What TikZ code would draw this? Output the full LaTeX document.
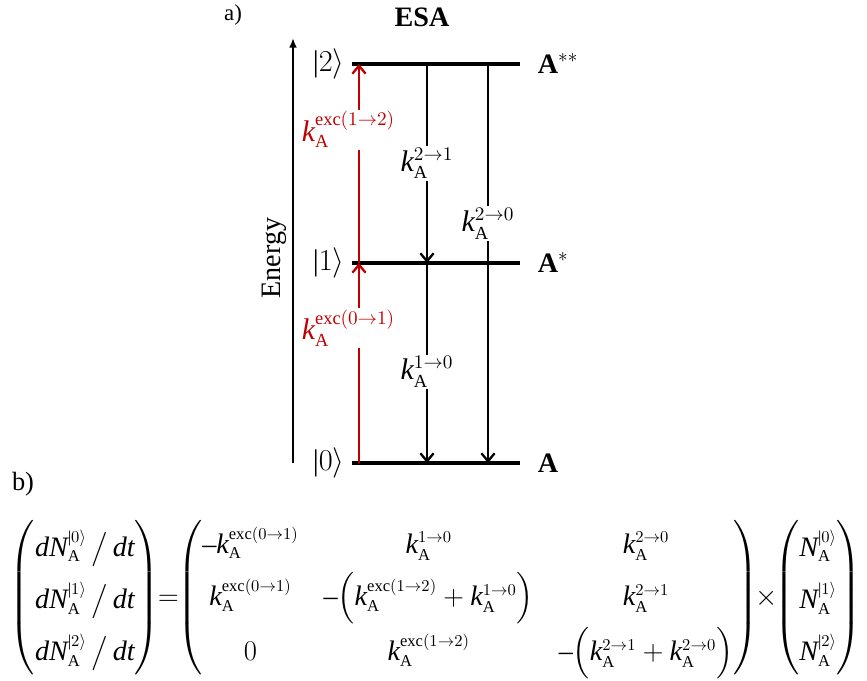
\documentclass[tikz,border=0pt]{standalone}
\usepackage{amsmath}
\usepackage{fontspec}
\setmainfont{Liberation Serif}
\usepackage[italic]{mathastext}
\usetikzlibrary{arrows.meta,positioning}
\DeclareMathSizes{16}{17}{10.5}{7.5}
\DeclareMathSizes{15}{17}{10}{7}
\definecolor{excred}{RGB}{192,0,0}
\newcommand{\krate}[1]{k_{\mathrm{A}}^{#1}}
\tikzset{
  level/.style={line width=2.3pt},
  decay/.style={line width=1.3pt,-{Straight Barb[length=4.5pt,width=7.5pt]}},
  excite/.style={decay,color=excred},
  ratelbl/.style={fill=white,inner sep=1pt},
}
\begin{document}
\begin{tikzpicture}[font=\fontsize{16}{19}\selectfont]
  \useasboundingbox (0,0) rectangle (17.340,13.620);
  \node[font=\fontsize{13}{15.6}\selectfont] (lbla) at (4.660,13.320) {a)};
  \node[font=\fontsize{16}{19}\selectfont\bfseries] (title) at (8.440,13.280) {ESA};
  \coordinate (ax0) at (5.860,4.360);
  \coordinate (ax1) at (5.860,12.860);
  \draw[line width=1.6pt,-{Latex[length=5.5pt,width=4.5pt]}] (ax0) -- (ax1);
  \node[rotate=90] (energy) at (5.480,8.460) {Energy};
  \coordinate (l0w) at (7.040,4.360);
  \coordinate (l0e) at (10.400,4.360);
  \coordinate (l1w) at (7.040,8.360);
  \coordinate (l1e) at (10.400,8.360);
  \coordinate (l2w) at (7.040,12.340);
  \coordinate (l2e) at (10.400,12.340);
  \draw[level] (l0w) -- (l0e);
  \draw[level] (l1w) -- (l1e);
  \draw[level] (l2w) -- (l2e);
  \node[inner sep=1pt,left=3pt of l0w] (ket0) {$|0\rangle$};
  \node[inner sep=1pt,left=3pt of l1w] (ket1) {$|1\rangle$};
  \node[inner sep=1pt,left=3pt of l2w] (ket2) {$|2\rangle$};
  \node[inner sep=1pt,right=9pt of l0e] (st0) {\textbf{A}};
  \node[inner sep=1pt,right=9pt of l1e] (st1) {\textbf{A}$^*$};
  \node[inner sep=1pt,right=9pt of l2e] (st2) {\textbf{A}$^{**}$};
  \coordinate (x01a) at (7.180,4.360);
  \coordinate (x01b) at (7.180,8.360);
  \coordinate (x12b) at (7.180,12.340);
  \coordinate (d21a) at (8.540,12.340);
  \coordinate (d21b) at (8.540,8.360);
  \coordinate (d10b) at (8.540,4.360);
  \coordinate (d20a) at (9.760,12.340);
  \coordinate (d20b) at (9.760,4.360);
  \draw[excite] (x01a) -- node[ratelbl,pos=0.675,xshift=-6pt] (r01) {$\krate{\mathrm{exc}(0\to1)}$} (x01b);
  \draw[excite] (x01b) -- node[ratelbl,pos=0.67,xshift=-6pt] (r12) {$\krate{\mathrm{exc}(1\to2)}$} (x12b);
  \draw[decay] (d21a) -- node[ratelbl,pos=0.5] (r21) {$\krate{2\to1}$} (d21b);
  \draw[decay] (d21b) -- node[ratelbl,pos=0.545] (r10) {$\krate{1\to0}$} (d10b);
  \draw[decay] (d20a) -- node[ratelbl,pos=0.4] (r20) {$\krate{2\to0}$} (d20b);
  \node[font=\fontsize{15}{18}\selectfont] (lblb) at (0.460,3.940) {b)};
  \node[inner sep=0pt,font=\fontsize{15}{18}\selectfont] (eqn) at (8.720,1.660) {\resizebox{17.040cm}{!}{\renewcommand{\arraystretch}{1.75}\setlength{\arraycolsep}{7.5pt}%
    $\begin{pmatrix} dN_{\mathrm{A}}^{|0\rangle}\,\big/\,dt\\ dN_{\mathrm{A}}^{|1\rangle}\,\big/\,dt\\ dN_{\mathrm{A}}^{|2\rangle}\,\big/\,dt \end{pmatrix}
    \!\!=\!\! \begin{pmatrix}
      -\krate{\mathrm{exc}(0\to1)} & \krate{1\to0} & \krate{2\to0}\\
      \krate{\mathrm{exc}(0\to1)} & -\Bigl(\krate{\mathrm{exc}(1\to2)}+\krate{1\to0}\Bigr) & \krate{2\to1}\\
      0 & \krate{\mathrm{exc}(1\to2)} & -\Bigl(\krate{2\to1}+\krate{2\to0}\Bigr)
    \end{pmatrix}
    \!\!\times\!\! \begin{pmatrix} N_{\mathrm{A}}^{|0\rangle}\\ N_{\mathrm{A}}^{|1\rangle}\\ N_{\mathrm{A}}^{|2\rangle} \end{pmatrix}$}};
\end{tikzpicture}
\end{document}
